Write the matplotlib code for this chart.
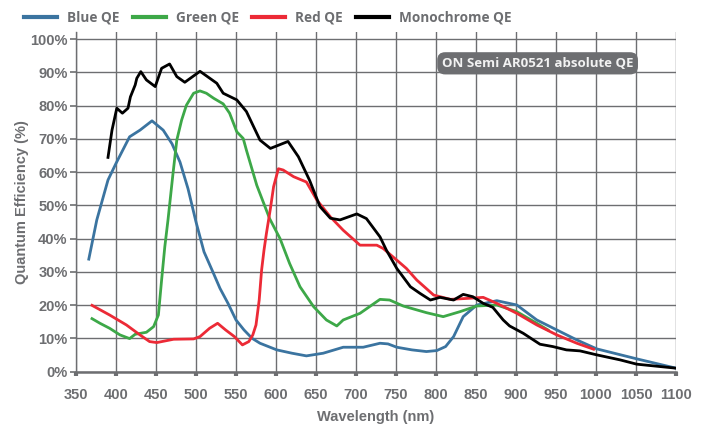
import matplotlib.pyplot as plt

# wavelength (nm) / QE (%)
blue_wl = [366, 376, 390, 400, 417, 430, 445, 459, 470, 480, 490, 500, 510, 521, 530,
           540, 550, 560, 570, 580, 601, 620, 638, 659, 684, 709, 730, 740, 751, 770,
           788, 801, 812, 822, 834, 851, 876, 901, 926, 951, 976, 1001, 1051, 1100]
blue_qe = [33.8, 45.6, 57.6, 62.6, 70.6, 72.6, 75.4, 72.6, 68.5, 63, 55, 45, 36, 30, 25,
           20.5, 15.5, 12.5, 10, 8.5, 6.5, 5.5, 4.7, 5.5, 7.3, 7.3, 8.5, 8.3, 7.3, 6.5,
           6, 6.3, 7.5, 10.5, 16.5, 20, 21.3, 20, 15.5, 12.5, 9.5, 6.8, 3.8, 1]

green_wl = [370, 380, 392, 405, 417, 424, 438, 447, 453, 457, 461, 465, 471, 476, 482,
            488, 497, 505, 513, 522, 534, 542, 551, 559, 563, 576, 592, 605, 617, 630,
            647, 663, 676, 684, 705, 730, 742, 759, 788, 809, 830, 851, 876, 901, 926, 940]
green_qe = [15.9, 14.5, 13, 11, 9.9, 11.2, 11.8, 13.5, 17, 27.5, 37.5, 45.6, 59, 69.6, 75.6,
            80.1, 83.7, 84.4, 83.7, 82.2, 80.5, 77.7, 72.1, 70.1, 66.6, 56, 46, 40, 32.5, 25.5,
            19.5, 15.5, 13.7, 15.5, 17.5, 21.7, 21.5, 19.7, 17.7, 16.5, 18, 19.7, 20, 18, 14.5, 12.5]

red_wl = [370, 392, 413, 430, 442, 451, 472, 497, 505, 517, 527, 537, 548, 558, 566,
          571, 575, 579, 582, 585, 588, 593, 597, 603, 609, 622, 638, 651, 668, 684,
          705, 726, 734, 751, 763, 776, 797, 818, 840, 859, 876, 901, 926, 951, 976, 997]
red_qe = [19.9, 17, 14, 11, 9, 8.7, 9.7, 9.8, 10.5, 13, 14.5, 12.5, 10.5, 8, 9,
          11, 14, 21.5, 30.5, 36.5, 41.5, 49, 55.6, 61, 60.6, 58.6, 57, 51.6, 46.5, 42.5,
          38, 38, 37, 33.5, 31, 27.5, 23, 21.7, 22, 22.3, 20.5, 17.5, 14, 11, 8.5, 6.7]

mono_wl = [390, 395, 401, 408, 415, 418, 424, 426, 431, 438, 449, 457, 467, 476, 486,
           505, 526, 534, 551, 563, 580, 593, 615, 628, 642, 655, 668, 680, 701, 713,
           730, 738, 751, 768, 780, 793, 805, 822, 834, 846, 859, 871, 884, 892, 909,
           930, 946, 963, 980, 1001, 1030, 1051, 1100]
mono_qe = [64.4, 72.6, 79.2, 77.7, 79.2, 82.6, 86.2, 88.2, 90.2, 87.7, 85.7, 91.2, 92.5, 88.7, 87,
           90.3, 86.7, 83.7, 81.7, 78.2, 69.6, 67.1, 69.2, 64.6, 57.5, 49.6, 46.1, 45.6, 47.4, 46,
           40.5, 36.5, 31, 25.5, 23.5, 21.5, 22.3, 21.5, 23.2, 22.5, 20.5, 19.3, 15.5, 13.7, 11.5,
           8.2, 7.5, 6.5, 6.2, 5, 3.5, 2.2, 1]

x_ticks = list(range(350, 1101, 50))
y_ticks = list(range(0, 101, 10))

grey = '#6d6e71'
W, H = 706, 429

fig = plt.figure(figsize=(W / 100, H / 100), dpi=100)
ax = fig.add_axes([76 / W, (H - 371.5) / H, 600 / W, (371.5 - 32.4) / H])

ax.plot(blue_wl, blue_qe, color='#3b74a0', lw=2.0, label='Blue QE')
ax.plot(green_wl, green_qe, color='#3da848', lw=2.0, label='Green QE')
ax.plot(red_wl, red_qe, color='#ec2a36', lw=2.0, label='Red QE')
ax.plot(mono_wl, mono_qe, color='black', lw=2.0, label='Monochrome QE')

ax.set_xlim(350, 1100)
ax.set_ylim(0, 102)
ax.set_xticks(x_ticks)
ax.set_yticks(y_ticks)
ax.set_yticklabels([f'{v}%' for v in y_ticks])
ax.grid(True, color=grey, lw=1.0)
ax.set_axisbelow(True)

for s in ['top', 'right']:
    ax.spines[s].set_visible(False)
ax.spines['left'].set_color(grey)
ax.spines['left'].set_linewidth(1.0)
ax.spines['bottom'].set_color(grey)
ax.spines['bottom'].set_linewidth(1.8)

ax.tick_params(axis='x', direction='out', length=3, width=3, color=grey,
               labelcolor=grey, pad=9)
ax.tick_params(axis='y', direction='out', length=4, width=1.2, color=grey,
               labelcolor=grey, pad=2)
for lab in ax.get_xticklabels() + ax.get_yticklabels():
    lab.set_family('Liberation Sans')
    lab.set_fontsize(10.5)
    lab.set_fontweight('bold')

ax.set_xlabel('Wavelength (nm)', family='Liberation Sans', weight='bold',
              size=10.5, color=grey, labelpad=6)
ax.set_ylabel('Quantum Efficiency (%)', family='Liberation Sans', weight='bold',
              size=10.5, color=grey, labelpad=1)

ax.text(927, 92.7, 'ON Semi AR0521 absolute QE', ha='center', va='center',
        color='#f2f2f2', fontsize=9.5, fontweight='bold', family='Open Sans',
        bbox=dict(boxstyle='round,pad=0.35,rounding_size=0.6', fc=grey, ec='none'))

fig.legend(loc='center left', bbox_to_anchor=(24 / W, 1 - 18 / H), ncol=4,
           frameon=False, handlelength=2.4, handletextpad=0.75, columnspacing=1.0,
           prop=dict(family='Open Sans', weight='bold', size=9.8),
           labelcolor=grey, borderaxespad=0, borderpad=0)
for line in fig.legends[0].get_lines():
    line.set_linewidth(3)

fig.savefig('out.png', dpi=100)
